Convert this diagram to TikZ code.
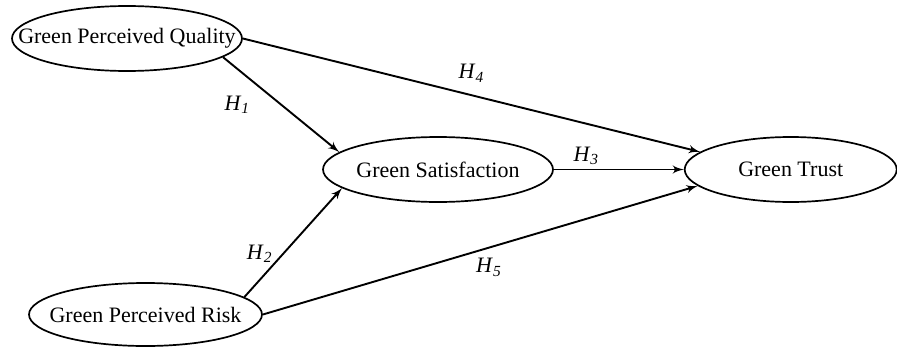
\documentclass[tikz,border=0pt]{standalone}
\usepackage{fontspec}
\setmainfont{Liberation Serif}
\usepackage{tikz}
\usetikzlibrary{shapes,arrows,positioning}

\newcommand{\hyp}[1]{\textit{H}\textsubscript{\textit{#1}}}
\newcommand{\inell}[1]{\makebox[0pt]{#1}}

\begin{document}
\begin{tikzpicture}[
        x=0.5pt, y=0.5pt,
        latent/.style={ellipse, draw, fill=white, inner sep=0pt, minimum height=32.5pt, line width=0.85pt, font=\fontsize{11}{13}\selectfont},
        arrow/.style={draw, -latex', line width=0.95pt},
        hlabel/.style={inner sep=0pt, font=\fontsize{11}{13}\selectfont}
    ]
    \useasboundingbox (0,0) rectangle (897,349);

    \node [latent, minimum width=115pt] (gpq) at (127,310.5) {\inell{Green Perceived Quality}};
    \node [latent, minimum width=115pt] (gs) at (438,179.5) {\inell{Green Satisfaction}};
    \node [latent, minimum width=106pt, right=65pt of gs] (gt) {\inell{Green Trust}};
    \node [latent, minimum width=116.5pt, minimum height=31.5pt] (gpr) at (145.5,34.5) {\inell{Green Perceived Risk}};

    \path [arrow] (gpq.-11) -- node [hlabel, left=15pt] {\hyp{1}} (gs.170);
    \path [arrow] (gpr.10) -- node [hlabel, pos=.4, left=5pt] {\hyp{2}} (gs.191);
    \path [arrow] (gs) -- node [hlabel, pos=.25, above=2pt] {\hyp{3}} (gt);
    \path [arrow] (gpq.east) -- node [hlabel, above=6pt] {\hyp{4}} (gt.169);
    \path [arrow] (gpr.east) -- node [hlabel, pos=.52, below=5pt] {\hyp{5}} (gt.190);

\end{tikzpicture}
\end{document}
